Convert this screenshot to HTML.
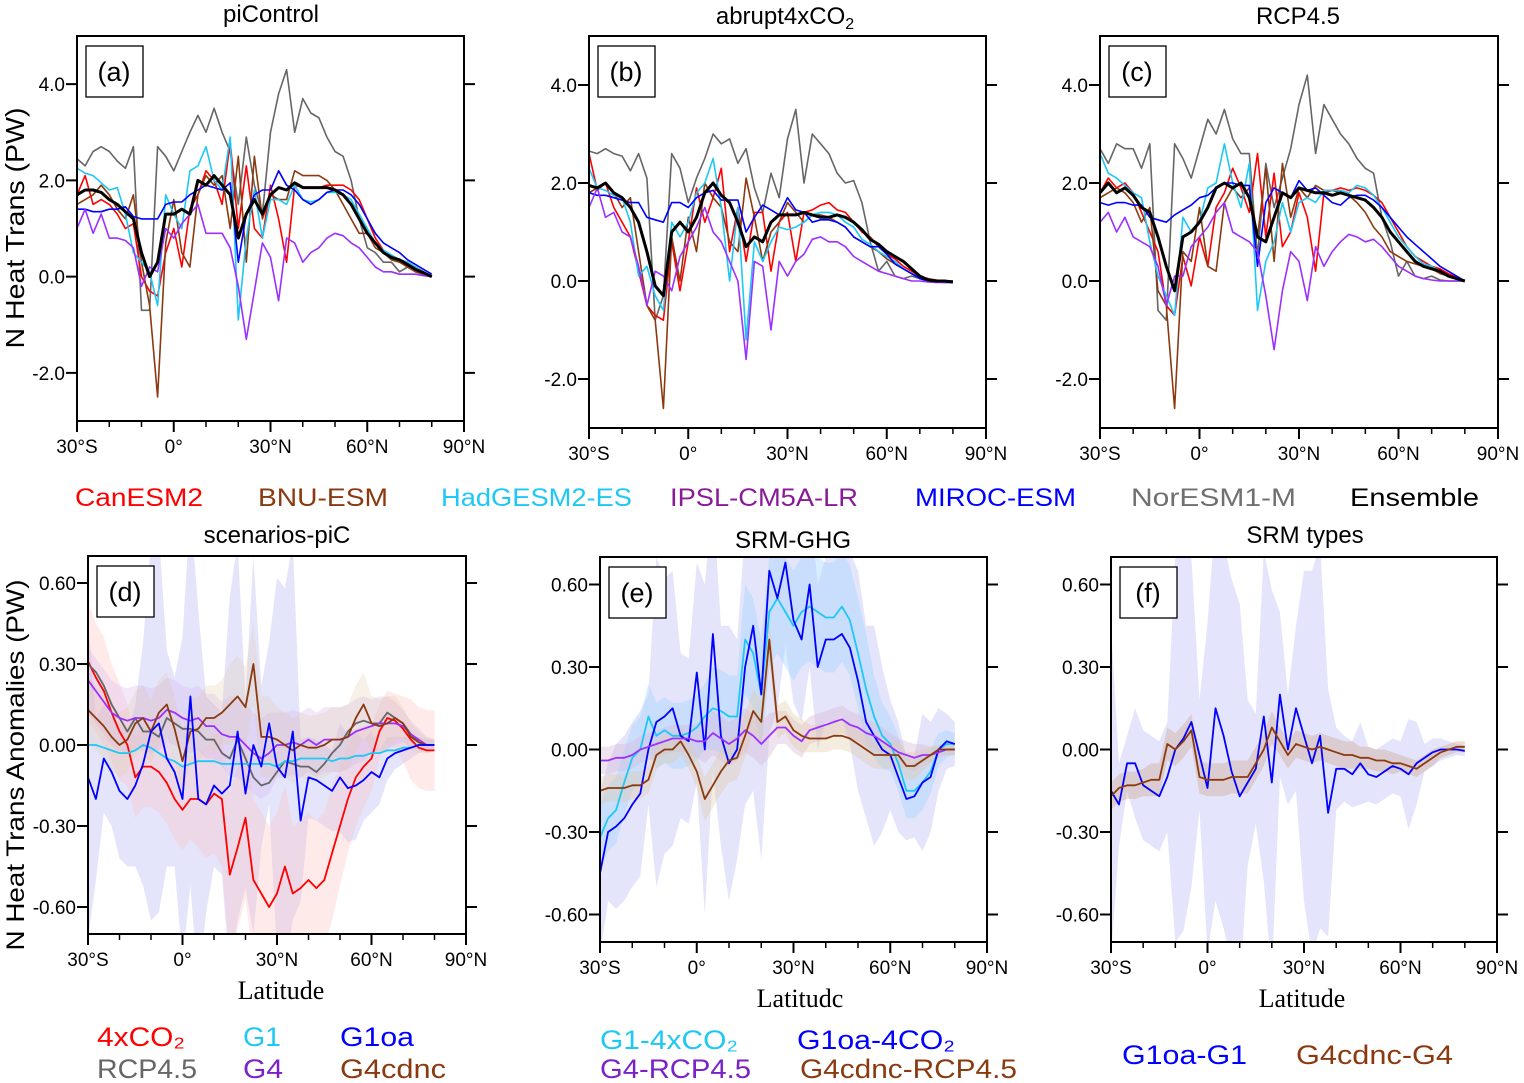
<!DOCTYPE html>
<html><head><meta charset="utf-8"><style>
body{margin:0;background:#fff;}
svg{display:block;font-family:"Liberation Sans",sans-serif;}
</style></head><body>
<svg id="fig" width="1524" height="1083" viewBox="0 0 1524 1083" xmlns="http://www.w3.org/2000/svg">
<defs></defs>
<g id="static">
<text x="271" y="22" font-size="24" text-anchor="middle">piControl</text>
<text x="785" y="24" font-size="24" text-anchor="middle">abrupt4xCO<tspan font-size="16" dy="5">2</tspan></text>
<text x="1298" y="24" font-size="24" text-anchor="middle">RCP4.5</text>
<text x="277" y="543" font-size="24" text-anchor="middle">scenarios-piC</text>
<text x="793" y="548" font-size="24" text-anchor="middle">SRM-GHG</text>
<text x="1305" y="543" font-size="24" text-anchor="middle">SRM types</text>
<text transform="translate(24,228) rotate(-90)" font-size="26" text-anchor="middle" textLength="241" lengthAdjust="spacingAndGlyphs">N Heat Trans (PW)</text>
<text transform="translate(24,765) rotate(-90)" font-size="25" text-anchor="middle" textLength="371" lengthAdjust="spacingAndGlyphs">N Heat Trans  Anomalies (PW)</text>
<g font-family="Liberation Serif,serif" font-size="26" text-anchor="middle">
<text x="281" y="999">Latitude</text>
<text x="800" y="1007">Latitudc</text>
<text x="1302" y="1007">Latitude</text>
</g>
<g font-size="25">
<text x="75" y="506" fill="#ff0000" textLength="128" lengthAdjust="spacingAndGlyphs">CanESM2</text>
<text x="258" y="506" fill="#8b3a0f" textLength="130" lengthAdjust="spacingAndGlyphs">BNU-ESM</text>
<text x="441" y="506" fill="#1ec8f5" textLength="191" lengthAdjust="spacingAndGlyphs">HadGESM2-ES</text>
<text x="670" y="506" fill="#8a1a9a" textLength="188" lengthAdjust="spacingAndGlyphs">IPSL-CM5A-LR</text>
<text x="915" y="506" fill="#0000ff" textLength="161" lengthAdjust="spacingAndGlyphs">MIROC-ESM</text>
<text x="1131" y="506" fill="#707070" textLength="165" lengthAdjust="spacingAndGlyphs">NorESM1-M</text>
<text x="1350" y="506" fill="#000" textLength="129" lengthAdjust="spacingAndGlyphs">Ensemble</text>
</g>
<g font-size="27">
<text x="97" y="1046" fill="#ff0000" textLength="88" lengthAdjust="spacingAndGlyphs">4xCO₂</text>
<text x="243" y="1046" fill="#1ec8f5" textLength="38" lengthAdjust="spacingAndGlyphs">G1</text>
<text x="340" y="1046" fill="#0000ff" textLength="74" lengthAdjust="spacingAndGlyphs">G1oa</text>
<text x="97" y="1078" fill="#666" textLength="100" lengthAdjust="spacingAndGlyphs">RCP4.5</text>
<text x="243" y="1078" fill="#7a22c8" textLength="40" lengthAdjust="spacingAndGlyphs">G4</text>
<text x="340" y="1078" fill="#8b3a0f" textLength="106" lengthAdjust="spacingAndGlyphs">G4cdnc</text>
<text x="600" y="1049" fill="#1ec8f5" textLength="138" lengthAdjust="spacingAndGlyphs">G1-4xCO₂</text>
<text x="797" y="1049" fill="#0000ff" textLength="158" lengthAdjust="spacingAndGlyphs">G1oa-4CO₂</text>
<text x="600" y="1078" fill="#7a22c8" textLength="151" lengthAdjust="spacingAndGlyphs">G4-RCP4.5</text>
<text x="800" y="1078" fill="#8b3a0f" textLength="217" lengthAdjust="spacingAndGlyphs">G4cdnc-RCP4.5</text>
<text x="1122" y="1064" fill="#0000ff" textLength="125" lengthAdjust="spacingAndGlyphs">G1oa-G1</text>
<text x="1296" y="1064" fill="#8b3a0f" textLength="157" lengthAdjust="spacingAndGlyphs">G4cdnc-G4</text>
</g>
</g>
</svg>
<script>
const lat=[-30,-27.5,-25,-22.5,-20,-17.5,-15,-12.5,-10,-7.5,-5,-2.5,0,2.5,5,7.5,10,12.5,15,17.5,20,22.5,25,27.5,30,32.5,35,37.5,40,42.5,45,47.5,50,52.5,55,57.5,60,62.5,65,67.5,70,72.5,75,77.5,80];
const xTickLabels=["30°S","0°","30°N","60°N","90°N"];
const xTickValues=[-30,0,30,60,90];
const yTicksTop=[4,2,0,-2];
const yTickLabelsTop=["4.0","2.0","0.0","-2.0"];
const yTicksBot=[0.6,0.3,0,-0.3,-0.6];
const yTickLabelsBot=["0.60","0.30","0.00","-0.30","-0.60"];

// panel a
const aGray=[2.45,2.3,2.6,2.7,2.6,2.4,2.25,2.7,-0.7,-0.7,2.7,2.5,2.2,2.6,3.0,3.35,3.0,3.5,3.0,2.6,1.5,2.9,1.9,1.3,3.0,3.8,4.3,3.0,3.7,3.4,3.3,2.9,2.6,2.5,2.0,1.2,0.6,0.5,0.3,0.3,0.1,0.2,0.1,0.05,0];
const aCan=[1.7,2.1,1.5,1.6,1.5,1.3,1.0,1.1,0.0,-0.3,-0.4,0.5,1.0,0.2,1.4,1.7,2.2,2.0,1.5,2.8,1.0,2.3,1.0,0.8,1.9,1.2,0.3,1.9,1.85,1.85,1.85,1.9,1.9,1.9,1.8,1.6,1.2,0.8,0.55,0.45,0.35,0.3,0.2,0.1,0];
const aBnu=[1.5,1.6,1.7,1.9,1.7,1.4,1.2,1.7,0.3,-0.6,-2.5,0.7,1.6,0.5,0.2,1.7,2.1,1.9,2.1,1.0,2.5,0.3,2.5,1.2,1.7,1.6,1.6,2.2,2.1,2.1,2.1,2.0,1.8,1.5,1.2,0.9,0.9,0.6,0.5,0.35,0.3,0.2,0.1,0.05,0];
const aHad=[2.25,2.15,2.1,1.95,1.8,1.85,1.3,0.5,0.3,0.1,-0.6,1.7,1.3,1.0,2.2,2.3,2.7,2.0,1.8,2.9,-0.9,0.8,1.8,0.8,1.6,1.6,1.5,1.9,1.6,1.55,1.6,1.75,1.75,1.7,1.6,1.3,1.0,0.7,0.55,0.45,0.35,0.3,0.2,0.1,0];
const aMiroc=[1.4,1.4,1.35,1.35,1.4,1.4,1.45,1.25,1.2,1.2,1.2,1.5,1.55,1.55,1.7,1.8,1.9,1.85,1.8,1.95,0.3,1.3,1.7,1.8,1.8,2.2,1.9,1.8,1.6,1.5,1.6,1.75,1.8,1.8,1.7,1.5,1.2,0.9,0.7,0.6,0.5,0.35,0.25,0.15,0.05];
const aIpsl=[1.0,1.4,0.9,1.3,0.8,0.8,0.75,0.6,-0.2,0.2,0.1,1.0,0.8,1.1,1.3,1.5,0.9,0.9,0.9,0.6,-0.2,-1.3,-0.3,0.7,0.4,-0.5,0.8,0.7,0.3,0.5,0.6,0.8,0.9,0.85,0.7,0.6,0.4,0.2,0.1,0.1,0.05,0.05,0.05,0.02,0];
const aEns=[1.7,1.8,1.8,1.75,1.6,1.5,1.35,1.2,0.5,0.0,0.3,1.3,1.3,1.4,1.3,2.0,1.9,2.1,1.9,1.7,0.8,1.3,1.6,1.3,1.7,1.85,1.8,1.95,1.85,1.85,1.85,1.85,1.8,1.7,1.5,1.2,0.9,0.7,0.5,0.4,0.35,0.25,0.15,0.08,0];

// panel b
const bGray=[2.65,2.6,2.7,2.6,2.55,2.25,2.6,2.1,-0.8,-0.3,2.6,2.3,1.6,2.1,2.5,3.0,2.8,2.9,2.4,2.7,1.9,1.4,2.2,1.7,2.9,3.5,2.0,3.0,2.8,2.6,2.2,2.0,2.05,1.6,0.8,0.2,0.4,0.1,0.05,0.1,0.05,0,0,0,-0.02];
const bCan=[2.6,1.85,2.0,1.5,1.2,0.9,0.2,-0.5,-0.7,-0.8,0.8,-0.2,0.8,1.9,1.2,1.7,2.3,0.6,1.5,0.4,1.4,1.4,0.2,1.2,1.4,0.4,1.4,1.45,1.55,1.6,1.45,1.4,1.2,1.0,0.9,0.7,0.55,0.45,0.3,0.2,0.1,0.05,0,0,0];
const bBnu=[1.8,1.9,2.0,1.8,1.5,1.7,0.6,-0.5,-0.8,-2.6,0.9,0.0,1.3,0.6,2.0,1.7,1.5,0.8,0.6,2.1,1.3,0.4,1.0,1.2,1.6,1.4,1.2,1.35,1.35,1.3,1.2,1.1,0.9,0.8,0.7,0.6,0.45,0.35,0.25,0.15,0.08,0.05,0.02,0,0];
const bHad=[2.3,1.9,1.85,1.75,1.7,1.2,0.1,0.3,-0.3,-0.6,1.2,0.9,1.2,1.8,2.0,2.5,1.5,0.0,1.5,-1.2,0.8,0.4,0.8,1.1,1.05,1.1,1.2,1.35,1.4,1.4,1.35,1.2,1.1,0.85,0.75,0.6,0.5,0.4,0.25,0.15,0.05,0.02,0,0,-0.02];
const bMiroc=[1.8,1.75,1.75,1.7,1.65,1.6,1.6,1.3,1.25,1.2,1.6,1.6,1.5,1.7,1.8,1.85,1.65,1.65,1.65,1.0,1.3,1.55,1.45,1.35,1.7,1.45,1.4,1.2,1.25,1.25,1.2,1.1,0.9,0.8,0.7,0.7,0.55,0.35,0.25,0.15,0.05,0,-0.02,-0.03,-0.03];
const bIpsl=[1.5,1.9,1.3,1.4,1.0,0.9,0.3,-0.5,0.2,0.1,-0.2,0.5,0.8,1.1,1.5,1.0,0.8,0.4,0.0,-1.6,0.4,0.3,-1.0,0.4,0.1,0.4,0.55,0.85,0.9,0.8,0.8,0.7,0.5,0.4,0.3,0.2,0.15,0.1,0.05,0,0,-0.02,-0.03,-0.03,-0.03];
const bEns=[1.95,1.9,2.0,1.8,1.7,1.5,1.2,0.6,-0.1,-0.3,1.0,1.2,1.0,1.3,1.8,2.0,1.75,1.6,1.2,0.7,0.9,0.8,1.2,1.35,1.35,1.35,1.4,1.35,1.3,1.3,1.35,1.3,1.2,1.05,0.85,0.75,0.6,0.5,0.4,0.25,0.1,0.02,0,0,-0.02];

// panel c
const cGray=[2.7,2.4,2.8,2.7,2.7,2.3,2.8,-0.6,-0.8,2.8,2.5,2.1,2.7,3.3,3.0,3.5,2.9,2.6,2.6,0.5,2.4,1.5,2.1,2.7,3.6,4.2,2.6,3.6,3.3,3.0,2.8,2.5,2.3,2.2,1.3,0.8,0.1,0.4,0.1,0.05,0.1,0.02,0,0,0];
const cCan=[1.8,2.1,1.9,2.0,1.8,1.4,1.0,0.6,-0.5,-0.7,0.5,-0.1,0.9,0.3,1.5,1.8,2.3,1.9,1.4,2.6,0.9,2.2,0.7,1.0,1.8,1.3,0.2,1.8,1.85,1.9,1.85,1.9,1.85,1.75,1.6,1.3,1.0,0.7,0.5,0.4,0.3,0.25,0.15,0.08,0];
const cBnu=[1.7,1.8,1.9,1.8,1.6,1.2,1.5,-0.2,-0.5,-2.6,0.6,0.4,1.5,0.3,0.2,1.6,1.9,1.7,1.9,0.9,2.3,0.4,2.4,1.3,1.9,1.7,1.95,1.85,1.85,1.8,1.75,1.6,1.4,1.1,0.9,0.6,0.5,0.4,0.35,0.3,0.25,0.15,0.1,0.05,0];
const cHad=[2.6,2.2,2.1,1.95,1.8,1.7,0.8,0.1,-0.3,-0.7,1.3,1.0,1.2,1.9,2.0,2.8,2.0,1.5,2.4,-0.6,0.4,0.8,1.6,1.0,1.6,1.7,1.6,1.85,1.85,1.85,1.8,1.95,1.9,1.75,1.5,1.2,0.9,0.7,0.5,0.35,0.3,0.2,0.1,0.05,0];
const cMiroc=[1.6,1.55,1.6,1.6,1.55,1.55,1.3,1.25,1.2,1.35,1.45,1.55,1.7,1.75,1.9,2.0,2.0,1.95,1.95,0.3,1.6,1.9,1.8,1.7,2.05,1.85,1.9,1.75,1.6,1.55,1.7,1.75,1.75,1.65,1.5,1.3,1.1,0.9,0.75,0.6,0.45,0.3,0.2,0.1,0];
const cIpsl=[1.2,1.4,1.0,1.3,0.9,0.8,0.7,0.3,-0.5,0.1,0.1,0.7,0.9,1.1,1.4,1.6,1.0,0.9,0.8,0.6,-0.3,-1.4,-0.2,0.6,0.4,-0.4,0.7,0.3,0.6,0.8,0.95,0.9,0.8,0.85,0.7,0.5,0.3,0.2,0.1,0.05,0.02,0,0,0,0];
const cEns=[1.8,2.0,1.8,1.9,1.75,1.5,1.4,0.9,0.3,-0.2,0.9,1.0,1.2,1.5,1.9,2.0,1.9,2.0,1.7,0.9,0.8,1.3,1.8,1.7,1.9,1.85,1.8,1.8,1.75,1.8,1.75,1.7,1.65,1.5,1.3,1.0,0.8,0.6,0.4,0.3,0.25,0.2,0.1,0.05,0];

// panel d
const d4x=[0.31,0.25,0.2,0.12,0.05,0.0,-0.12,-0.08,-0.08,-0.1,-0.14,-0.2,-0.24,-0.2,-0.2,-0.22,-0.18,-0.2,-0.48,-0.38,-0.27,-0.5,-0.55,-0.6,-0.55,-0.45,-0.55,-0.53,-0.5,-0.53,-0.5,-0.4,-0.3,-0.2,-0.12,-0.08,-0.05,0.05,0.1,0.09,0.06,0.02,-0.01,-0.02,-0.02];
const dRcp=[0.3,0.27,0.22,0.15,0.1,0.05,0.1,0.05,0.05,0.03,0.1,0.08,0.06,0.06,0.05,0.02,0.02,-0.03,-0.05,0.02,-0.05,-0.12,-0.15,-0.14,-0.1,-0.06,-0.07,-0.08,-0.08,-0.1,-0.07,-0.03,0.0,0.05,0.08,0.09,0.08,0.08,0.12,0.1,0.08,0.04,0.01,0,0];
const dG4=[0.24,0.2,0.16,0.12,0.1,0.09,0.1,0.1,0.09,0.1,0.13,0.12,0.1,0.09,0.1,0.07,0.07,0.04,0.03,0.03,0.0,-0.03,-0.05,-0.03,0.0,0.0,0.01,0.0,0.02,0.0,0.02,0.02,0.02,0.03,0.05,0.06,0.07,0.08,0.08,0.08,0.07,0.04,0.02,0,0];
const dG4c=[0.13,0.1,0.07,0.03,0.0,0.02,0.08,0.1,0.05,0.12,0.15,0.06,-0.06,0.05,0.06,0.1,0.1,0.12,0.15,0.18,0.14,0.3,0.03,0.03,0.02,0.0,-0.02,0.0,-0.01,-0.01,0.0,0.02,0.02,0.03,0.1,0.15,0.08,0.07,0.08,0.1,0.08,0.03,0.01,0,0];
const dG1=[0,0,-0.01,-0.02,-0.03,-0.03,-0.02,0,-0.01,-0.03,-0.05,-0.06,-0.08,-0.07,-0.06,-0.06,-0.06,-0.07,-0.07,-0.07,-0.07,-0.07,-0.07,-0.07,-0.08,-0.06,-0.06,-0.05,-0.05,-0.05,-0.05,-0.06,-0.05,-0.05,-0.04,-0.04,-0.03,-0.03,-0.02,-0.02,-0.01,-0.01,0,0,0];
const dG1oa=[-0.12,-0.2,-0.05,-0.1,-0.17,-0.2,-0.15,-0.07,0.05,0.08,-0.05,-0.1,-0.2,0.18,-0.2,-0.22,-0.15,-0.18,-0.15,0.05,-0.18,0.0,-0.08,0.08,-0.08,-0.12,0.05,-0.28,-0.12,-0.13,-0.15,-0.17,-0.12,-0.16,-0.15,-0.13,-0.1,-0.12,-0.05,-0.03,-0.02,-0.01,0,0,0];
const dSpreadBlue=[0.6,0.3,0.2,0.2,0.25,0.25,0.3,0.45,0.7,0.7,0.4,0.35,0.6,0.7,0.7,0.4,0.3,0.3,0.7,0.7,0.35,0.7,0.3,0.3,0.7,0.7,0.7,0.3,0.15,0.15,0.15,0.15,0.2,0.2,0.2,0.15,0.15,0.1,0.08,0.06,0.05,0.04,0.03,0.02,0.02];
const dSpreadRed=[0.22,0.2,0.2,0.18,0.18,0.15,0.15,0.15,0.15,0.15,0.15,0.15,0.15,0.15,0.18,0.2,0.22,0.25,0.3,0.3,0.3,0.3,0.3,0.3,0.3,0.3,0.25,0.25,0.25,0.25,0.25,0.25,0.22,0.2,0.18,0.15,0.12,0.1,0.1,0.1,0.12,0.15,0.15,0.15,0.15];
const dSpreadG4=[0.12,0.12,0.12,0.12,0.12,0.12,0.12,0.12,0.12,0.12,0.12,0.12,0.12,0.12,0.12,0.12,0.12,0.12,0.15,0.15,0.15,0.15,0.15,0.15,0.12,0.12,0.12,0.12,0.12,0.12,0.12,0.12,0.12,0.12,0.12,0.12,0.1,0.1,0.1,0.08,0.06,0.05,0.04,0.03,0.02];

// panel e
const eG1=[-0.32,-0.25,-0.22,-0.12,-0.03,0.0,0.12,0.05,0.07,0.05,0.05,0.06,0.08,0.12,0.15,0.14,0.12,0.12,0.4,0.35,0.2,0.5,0.55,0.5,0.45,0.5,0.52,0.5,0.48,0.48,0.52,0.47,0.35,0.22,0.12,0.05,0.02,-0.05,-0.15,-0.15,-0.12,-0.08,0.0,0.02,0.02];
const eG1oa=[-0.45,-0.3,-0.28,-0.25,-0.2,-0.16,0.0,0.1,0.12,0.15,0.05,0.03,0.28,0.0,0.42,0.05,-0.05,0.0,0.3,0.45,0.2,0.65,0.55,0.68,0.47,0.4,0.6,0.3,0.4,0.4,0.42,0.37,0.25,0.1,0.05,0.0,-0.02,-0.1,-0.18,-0.17,-0.12,-0.1,0.0,0.03,0.02];
const eG4=[-0.04,-0.04,-0.03,-0.03,-0.02,0,0.01,0.02,0.03,0.04,0.04,0.04,0.03,0.03,0.06,0.04,0.02,0.04,0.07,0.05,0.02,0.05,0.08,0.08,0.05,0.03,0.07,0.08,0.09,0.1,0.11,0.09,0.08,0.06,0.05,0.03,0.01,-0.01,-0.02,-0.03,-0.02,-0.02,-0.01,0,0];
const eG4c=[-0.15,-0.14,-0.14,-0.14,-0.13,-0.13,-0.11,-0.02,0,0,0.03,-0.02,-0.08,-0.18,-0.13,-0.08,-0.04,-0.03,0.05,0.14,0.1,0.4,0.1,0.12,0.07,0.05,0.04,0.04,0.04,0.05,0.05,0.04,0.02,0,-0.02,-0.02,-0.02,-0.02,-0.06,-0.06,-0.04,-0.02,0,0,0];
const eSpreadWide=[0.3,0.25,0.3,0.3,0.3,0.3,0.2,0.6,0.5,0.5,0.3,0.3,0.4,0.6,0.5,0.4,0.5,0.4,0.5,0.6,0.6,0.6,0.4,0.3,0.3,0.3,0.3,0.3,0.3,0.3,0.3,0.35,0.4,0.35,0.4,0.3,0.2,0.2,0.15,0.15,0.25,0.2,0.15,0.1,0.08];
const eSpreadG1=[0.12,0.12,0.12,0.12,0.12,0.12,0.12,0.12,0.12,0.12,0.12,0.12,0.12,0.12,0.15,0.15,0.15,0.15,0.2,0.2,0.2,0.2,0.2,0.2,0.2,0.2,0.2,0.2,0.2,0.2,0.2,0.2,0.2,0.2,0.15,0.12,0.1,0.1,0.1,0.1,0.1,0.08,0.06,0.05,0.04];
const eSpreadG4=[0.05,0.05,0.05,0.05,0.05,0.05,0.05,0.05,0.05,0.05,0.05,0.05,0.06,0.08,0.08,0.08,0.08,0.08,0.08,0.08,0.08,0.08,0.06,0.06,0.06,0.06,0.05,0.05,0.05,0.05,0.05,0.05,0.05,0.05,0.05,0.05,0.05,0.05,0.05,0.05,0.04,0.03,0.02,0.02,0.02];

// panel f
const fG1oa=[-0.15,-0.2,-0.05,-0.05,-0.13,-0.15,-0.17,-0.1,0.0,0.04,0.1,-0.02,-0.14,0.15,0.05,-0.08,-0.17,-0.12,-0.07,0.12,-0.12,0.2,0.0,0.15,0.05,-0.05,0.05,-0.23,-0.07,-0.07,-0.09,-0.05,-0.09,-0.1,-0.08,-0.06,-0.07,-0.09,-0.05,-0.03,-0.01,0,0,0,-0.005];
const fG4c=[-0.17,-0.14,-0.13,-0.13,-0.12,-0.11,-0.11,0.02,0.0,0.03,0.07,-0.1,-0.11,-0.11,-0.11,-0.1,-0.1,-0.1,-0.05,0.0,0.08,0.03,-0.02,0.02,0.01,0.0,0.01,0.0,-0.01,-0.02,-0.02,-0.03,-0.03,-0.04,-0.04,-0.05,-0.05,-0.06,-0.07,-0.05,-0.03,-0.01,0,0.01,0.01];
const fSpreadWide=[0.6,0.15,0.1,0.2,0.2,0.2,0.2,0.2,0.7,0.7,0.6,0.2,0.6,0.7,0.7,0.7,0.7,0.3,0.2,0.6,0.7,0.3,0.2,0.3,0.6,0.7,0.7,0.45,0.15,0.12,0.12,0.15,0.1,0.1,0.1,0.1,0.1,0.2,0.15,0.05,0.05,0.04,0.03,0.02,0.02];
const fSpreadG4=[0.05,0.05,0.05,0.05,0.05,0.06,0.06,0.06,0.06,0.06,0.06,0.06,0.06,0.06,0.06,0.06,0.06,0.06,0.06,0.06,0.06,0.05,0.05,0.05,0.05,0.05,0.05,0.05,0.05,0.05,0.05,0.04,0.04,0.04,0.04,0.04,0.03,0.03,0.03,0.03,0.03,0.02,0.02,0.02,0.02];

const C={red:'#ff0000',brown:'#8b3a0f',cyan:'#1ec8f5',purple:'#9b30ff',blue:'#0000ff',gray:'#666666',black:'#000000'};
const NS='http://www.w3.org/2000/svg';
const svg=document.getElementById('fig');
const defs=svg.querySelector('defs');
function el(tag,attrs,parent){const e=document.createElementNS(NS,tag);for(const k in attrs)e.setAttribute(k,attrs[k]);(parent||svg).appendChild(e);return e;}

const panels=[
 {id:'a',x0:77,x1:464,y0:36,y1:421,ymin:-3,ymax:5,ticks:yTicksTop,labels:yTickLabelsTop,lab:'(a)',
  series:[['norESM1-M',aGray,C.gray,1.6],['canesm2',aCan,C.red,1.6],['bnu-esm',aBnu,C.brown,1.6],['hadgesm2-es',aHad,C.cyan,1.6],['miroc-esm',aMiroc,C.blue,1.6],['ipsl-cm5a-lr',aIpsl,C.purple,1.6],['ensemble',aEns,C.black,3]],bands:[]},
 {id:'b',x0:589,x1:986,y0:36,y1:428,ymin:-3,ymax:5,ticks:yTicksTop,labels:yTickLabelsTop,lab:'(b)',
  series:[['norESM1-M',bGray,C.gray,1.6],['canesm2',bCan,C.red,1.6],['bnu-esm',bBnu,C.brown,1.6],['hadgesm2-es',bHad,C.cyan,1.6],['miroc-esm',bMiroc,C.blue,1.6],['ipsl-cm5a-lr',bIpsl,C.purple,1.6],['ensemble',bEns,C.black,3]],bands:[]},
 {id:'c',x0:1100,x1:1498,y0:36,y1:428,ymin:-3,ymax:5,ticks:yTicksTop,labels:yTickLabelsTop,lab:'(c)',
  series:[['norESM1-M',cGray,C.gray,1.6],['canesm2',cCan,C.red,1.6],['bnu-esm',cBnu,C.brown,1.6],['hadgesm2-es',cHad,C.cyan,1.6],['miroc-esm',cMiroc,C.blue,1.6],['ipsl-cm5a-lr',cIpsl,C.purple,1.6],['ensemble',cEns,C.black,3]],bands:[]},
 {id:'d',x0:88,x1:466,y0:556,y1:934,ymin:-0.7,ymax:0.7,ticks:yTicksBot,labels:yTickLabelsBot,lab:'(d)',
  bands:[['g1oa-band',dG1oa,dSpreadBlue,'#c4c4f6',0.45],['4xco2-band',d4x,dSpreadRed,'#ffc4c4',0.35],['g4-band',dG4,dSpreadG4,'#d4b4f0',0.3],['g4cdnc-band',dG4c,dSpreadG4,'#e0c8a4',0.25]],
  series:[['4xco2',d4x,C.red,1.8],['rcp45',dRcp,C.gray,1.8],['g4',dG4,C.purple,1.8],['g1',dG1,C.cyan,1.8],['g4cdnc',dG4c,C.brown,1.8],['g1oa',dG1oa,C.blue,1.8]]},
 {id:'e',x0:600,x1:987,y0:557,y1:942,ymin:-0.7,ymax:0.7,ticks:yTicksBot,labels:yTickLabelsBot,lab:'(e)',
  bands:[['g1oa-4co2-band',eG1oa,eSpreadWide,'#c4c4f6',0.45],['g1-4xco2-band',eG1,eSpreadG1,'#a8d8ff',0.45],['g4-rcp45-band',eG4,eSpreadG4,'#d8b8d8',0.4],['g4cdnc-rcp45-band',eG4c,eSpreadG4,'#e0c8a0',0.35]],
  series:[['g1-4xco2',eG1,C.cyan,1.8],['g1oa-4co2',eG1oa,C.blue,1.8],['g4-rcp45',eG4,C.purple,1.8],['g4cdnc-rcp45',eG4c,C.brown,1.8]]},
 {id:'f',x0:1111,x1:1497,y0:557,y1:942,ymin:-0.7,ymax:0.7,ticks:yTicksBot,labels:yTickLabelsBot,lab:'(f)',
  bands:[['g1oa-g1-band',fG1oa,fSpreadWide,'#c4c4f8',0.45],['g4cdnc-g4-band',fG4c,fSpreadG4,'#d0b0a0',0.45]],
  series:[['g1oa-g1',fG1oa,C.blue,1.8],['g4cdnc-g4',fG4c,C.brown,1.8]]}
];

panels.forEach(p=>{
  const sx=v=>p.x0+(v+30)/120*(p.x1-p.x0);
  const sy=v=>p.y1-(v-p.ymin)/(p.ymax-p.ymin)*(p.y1-p.y0);
  const g=el('g',{});
  
  
  const cp=el('clipPath',{id:'clip'+p.id},defs);
  el('rect',{x:p.x0,y:p.y0,width:p.x1-p.x0,height:p.y1-p.y0},cp);
  const plot=el('g',{'clip-path':'url(#clip'+p.id+')'},g);
  
  
  p.bands.forEach(b=>{
    const [nm,mid,sp,col,op]=b;
    let up=lat.map((l,i)=>sx(l).toFixed(1)+','+sy(mid[i]+sp[i]).toFixed(1));
    let dn=lat.map((l,i)=>sx(l).toFixed(1)+','+sy(mid[i]-sp[i]).toFixed(1)).reverse();
    const poly=el('polygon',{points:up.concat(dn).join(' '),fill:col,'fill-opacity':op,stroke:'none'},plot);
    
    
  });
  p.series.forEach(s=>{
    const [nm,vals,col,w]=s;
    const pts=lat.map((l,i)=>sx(l).toFixed(1)+','+sy(vals[i]).toFixed(1)).join(' ');
    const pl=el('polyline',{points:pts,fill:'none',stroke:col,'stroke-width':w,'stroke-linejoin':'round'},plot);
    
    
  });
  const frame=el('rect',{x:p.x0,y:p.y0,width:p.x1-p.x0,height:p.y1-p.y0,fill:'none',stroke:'#000','stroke-width':2},g);
  
  
  for(let l=-30;l<=90;l+=10){
    const major=(l%30===0);
    const t=el('line',{x1:sx(l),x2:sx(l),y1:p.y1,y2:p.y1+(major?11:6),stroke:'#000','stroke-width':major?2:1.5},g);
    
    
  }
  xTickValues.forEach((v,i)=>{
    const t=el('text',{x:sx(v),y:p.y1+32,'font-size':19,'text-anchor':'middle'},g);
    t.textContent=xTickLabels[i];
    
    
  });
  p.ticks.forEach((v,i)=>{
    const tl=el('line',{x1:p.x0-11,x2:p.x0,y1:sy(v),y2:sy(v),stroke:'#000','stroke-width':2},g);
    
    
    const tr=el('line',{x1:p.x1,x2:p.x1+11,y1:sy(v),y2:sy(v),stroke:'#000','stroke-width':2},g);
    
    
    const t=el('text',{x:p.x0-12,y:sy(v)+7,'font-size':19,'text-anchor':'end'},g);
    t.textContent=p.labels[i];
    
    
  });
  const lb=el('rect',{x:p.x0+9,y:p.y0+10,width:57,height:51,fill:'#fff',stroke:'#000','stroke-width':1.3},g);
  
  
  const lt=el('text',{x:p.x0+37,y:p.y0+45,'font-size':27,'text-anchor':'middle'},g);
  lt.textContent=p.lab;
  
  
});
</script>
</body></html>
